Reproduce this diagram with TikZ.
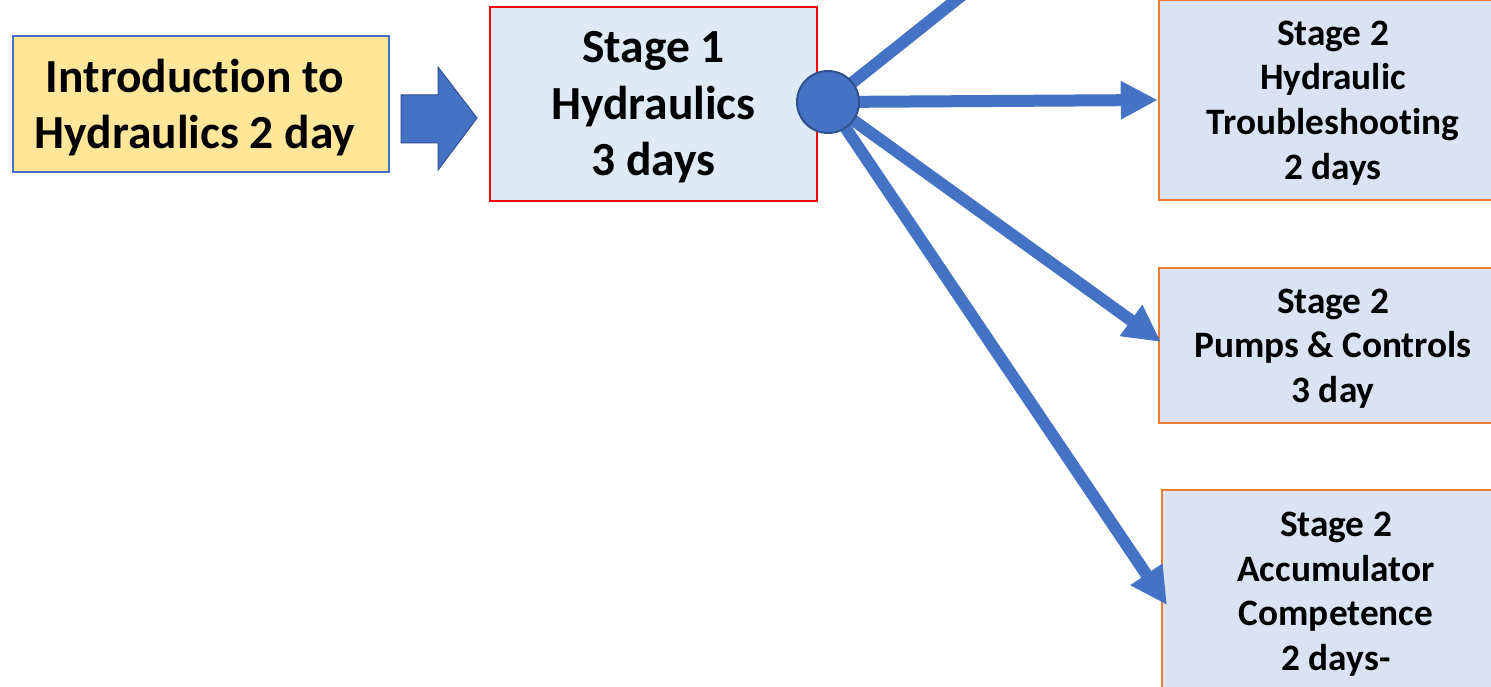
\documentclass[tikz,border=0pt]{standalone}
\usepackage{fontspec}
\setmainfont{Carlito}[Ligatures=NoCommon]
\usetikzlibrary{arrows.meta}
\definecolor{accblue}{HTML}{4472C4}
\definecolor{darkblue}{HTML}{2F528F}
\definecolor{introfill}{HTML}{FFE699}
\definecolor{s1fill}{HTML}{DEEBF7}
\definecolor{s2fill}{HTML}{DAE3F3}
\definecolor{s2line}{HTML}{ED7D31}
\tikzset{
  bigtext/.style={font=\bfseries\fontsize{47.5}{56.5}\selectfont, align=center, inner sep=0pt},
  smalltext/.style={font=\bfseries\fontsize{37.3}{44.6}\selectfont, align=center, inner sep=0pt},
  introbox/.style={draw=accblue, line width=2pt, fill=introfill, minimum width=376pt, minimum height=136pt, inner sep=0pt},
  stageonebox/.style={draw=red, line width=2pt, fill=s1fill, minimum width=327pt, minimum height=194pt, inner sep=0pt},
  stagetwobox/.style={draw=s2line, line width=2.5pt, fill=s2fill, inner sep=0pt},
  flow/.style={draw=accblue, line width=12pt, -{Triangle[length=37pt,width=36pt]}},
  hubdot/.style={circle, fill=accblue, draw=darkblue, line width=2pt, minimum size=62pt, inner sep=0pt}
}
\begin{document}
\begin{tikzpicture}[x=1pt,y=-1pt]
\useasboundingbox (0,0) rectangle (1491,687);
\clip (0,0) rectangle (1491,687);
\fill[white] (0,0) rectangle (1491,687);
% boxes
\node[introbox] (intro) at (201,104) {};
\node[bigtext] (introtext) at ([yshift=-3.5pt,xshift=-6pt]intro.center) {Introduction to\\Hydraulics 2 day};
\node[stageonebox] (s1) at (653.5,104) {};
\node[bigtext] (s1text) at ([yshift=-3.5pt]s1.center) {Stage 1\\Hydraulics\\3 days};
\node[stagetwobox, minimum width=348pt, minimum height=200pt] (s2a) at (1333,100) {};
\node[smalltext] (s2atext) at ([yshift=-3pt]s2a.center) {Stage 2\\Hydraulic\\Troubleshooting\\2 days};
\node[stagetwobox, minimum width=348pt, minimum height=155pt] (s2b) at (1333,345.5) {};
\node[smalltext] (s2btext) at ([yshift=-3pt]s2b.center) {Stage 2\\Pumps \& Controls\\3 day};
\node[stagetwobox, minimum width=348pt, minimum height=202pt] (s2c) at (1336,591) {};
\node[smalltext] (s2ctext) at ([yshift=-3pt]s2c.center) {Stage 2\\Accumulator\\Competence\\2 days-};
% block arrow
\filldraw[fill=accblue, draw=darkblue, line width=1pt]
  (401,95) -- (438,95) -- (438,67) -- (477,118) -- (438,170) -- (438,143) -- (401,143) -- cycle;
% hub and connectors
\coordinate (hubc) at (828,102);
\coordinate (upend) at (1000,-35);
\coordinate (tipb) at (1161,342);
\coordinate (tipc) at (1167,605);
\draw[draw=accblue, line width=12pt] (hubc) -- (upend);
\draw[flow] (hubc) -- (s2a.west |- 0,100);
\draw[flow] (hubc) -- (tipb);
\draw[flow] (hubc) -- (tipc);
\node[hubdot] (hub) at (hubc) {};
\end{tikzpicture}
\end{document}
